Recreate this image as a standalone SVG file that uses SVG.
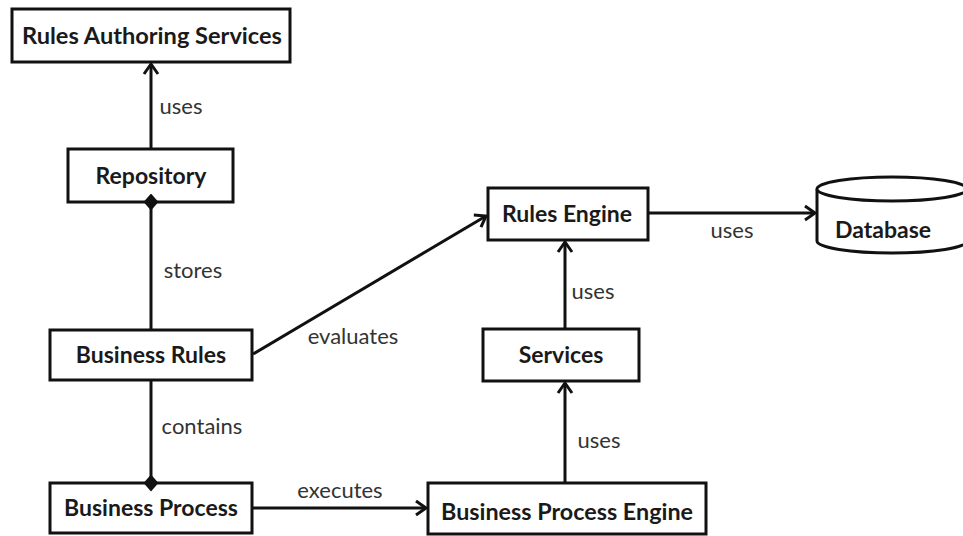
<svg xmlns="http://www.w3.org/2000/svg" width="963" height="536" viewBox="0 0 963 536">
<style>
.box{fill:#fff;stroke:#111;stroke-width:3}
.lbl{font-family:Lato,"Liberation Sans",sans-serif;font-weight:bold;font-size:23px;fill:#1a1a1a;text-anchor:middle}
.elbl{font-family:Lato,"Liberation Sans",sans-serif;font-size:22px;fill:#333;text-anchor:middle}
.ln{stroke:#111;stroke-width:3;fill:none}
</style>
<defs>
<marker id="arr" markerUnits="userSpaceOnUse" markerWidth="14" markerHeight="18" refX="11" refY="8" orient="auto" viewBox="0 0 14 16">
<path d="M1,1 L11,8 L1,15" fill="none" stroke="#111" stroke-width="3"/>
</marker>
<marker id="dia" markerUnits="userSpaceOnUse" markerWidth="17" markerHeight="15" refX="8" refY="7" orient="auto" viewBox="0 0 16 14">
<path d="M0,7 L8,0 L16,7 L8,14 Z" fill="#111"/>
</marker>
</defs>
<rect width="963" height="536" fill="#fff"/>
<g id="rules-authoring-services">
<rect class="box" x="12" y="9" width="278" height="53"/>
<text class="lbl" x="152" y="44" textLength="260" lengthAdjust="spacingAndGlyphs">Rules Authoring Services</text>
</g>
<g id="repository">
<rect class="box" x="68" y="149" width="165" height="53"/>
<text class="lbl" x="151" y="184">Repository</text>
</g>
<g id="business-rules">
<rect class="box" x="50" y="330" width="202" height="50"/>
<text class="lbl" x="151" y="363">Business Rules</text>
</g>
<g id="business-process">
<rect class="box" x="50" y="483" width="202" height="50"/>
<text class="lbl" x="151" y="516">Business Process</text>
</g>
<g id="rules-engine">
<rect class="box" x="488" y="188" width="160" height="52"/>
<text class="lbl" x="567" y="222">Rules Engine</text>
</g>
<g id="services">
<rect class="box" x="483" y="329" width="156" height="52"/>
<text class="lbl" x="561" y="363">Services</text>
</g>
<g id="business-process-engine">
<rect class="box" x="428" y="483" width="278" height="51"/>
<text class="lbl" x="567" y="520" textLength="252" lengthAdjust="spacingAndGlyphs">Business Process Engine</text>
</g>
<g id="database">
<path class="box" d="M817,189 L817,241 A75,12 0 0 0 967,241 L967,189"/>
<ellipse class="box" cx="892" cy="189" rx="75" ry="12"/>
<text class="lbl" x="883" y="238">Database</text>
</g>
<g id="connectors">
<line class="ln" x1="151" y1="149" x2="151" y2="64" marker-end="url(#arr)"/>
<line class="ln" x1="151" y1="330" x2="151" y2="202" marker-end="url(#dia)"/>
<line class="ln" x1="151" y1="380" x2="151" y2="483" marker-end="url(#dia)"/>
<line class="ln" x1="253" y1="354" x2="486" y2="216" marker-end="url(#arr)"/>
<line class="ln" x1="252" y1="508" x2="426" y2="508" marker-end="url(#arr)"/>
<line class="ln" x1="565" y1="483" x2="565" y2="383" marker-end="url(#arr)"/>
<line class="ln" x1="565" y1="329" x2="565" y2="242" marker-end="url(#arr)"/>
<line class="ln" x1="648" y1="213" x2="815" y2="213" marker-end="url(#arr)"/>
<text class="elbl" x="181" y="114">uses</text>
<text class="elbl" x="193" y="278">stores</text>
<text class="elbl" x="202" y="434">contains</text>
<text class="elbl" x="353" y="344">evaluates</text>
<text class="elbl" x="340" y="498">executes</text>
<text class="elbl" x="599" y="448">uses</text>
<text class="elbl" x="593" y="299">uses</text>
<text class="elbl" x="732" y="238">uses</text>
</g>
</svg>
